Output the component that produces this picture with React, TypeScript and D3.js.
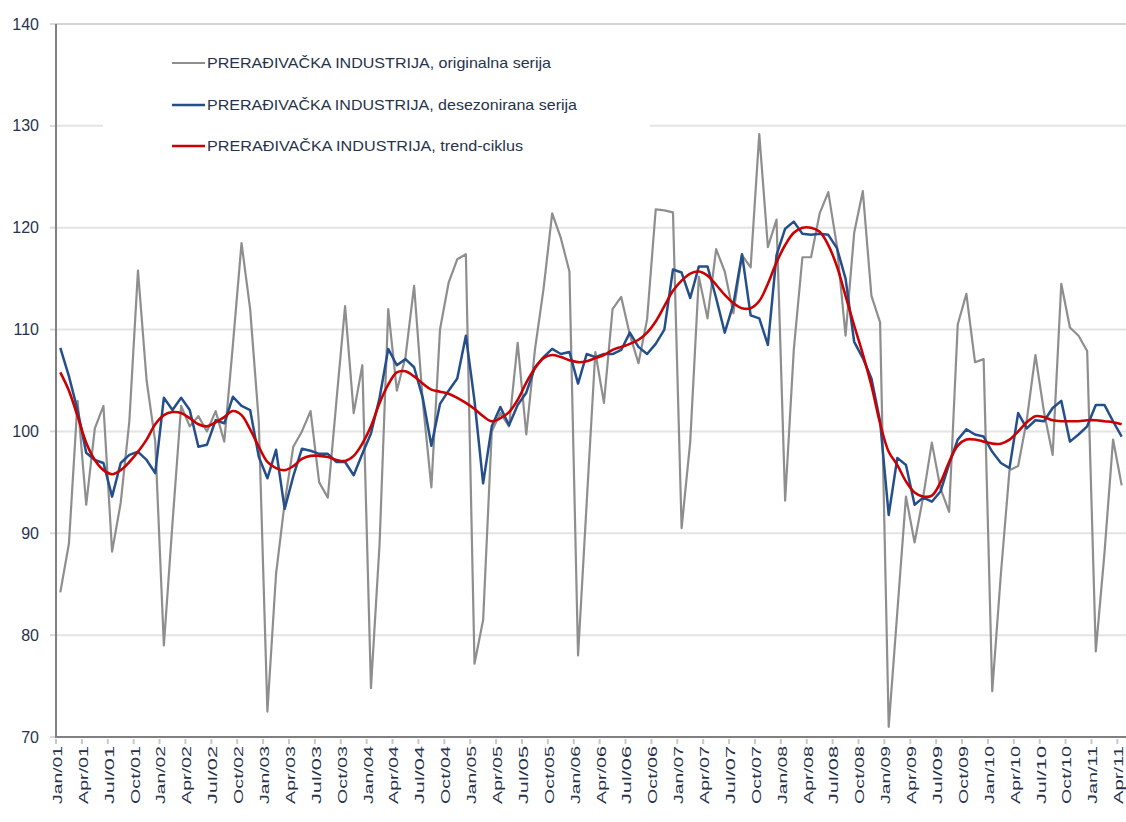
import React, { useEffect, useRef } from 'react';
import * as d3 from 'd3';

const MONTHS = ['Jan', 'Feb', 'Mar', 'Apr', 'May', 'Jun', 'Jul', 'Aug', 'Sep', 'Oct', 'Nov', 'Dec'];
// Jan/01 .. Apr/11, one category per month
const categories = d3.range(124).map((i) => `${MONTHS[i % 12]}/${String(1 + Math.floor(i / 12)).padStart(2, '0')}`);
const tickLabels = categories.filter((_, i) => i % 3 === 0);
const yTicks = [70, 80, 90, 100, 110, 120, 130, 140];

const original = [
  84.2, 89, 103, 92.8, 100.3, 102.5, 88.2, 93, 101, 115.8, 105, 99,
  79, 91, 102.5, 100.5, 101.5, 100, 102, 99, 108.5, 118.5, 112, 101,
  72.5, 86, 93, 98.5, 100, 102, 95, 93.5, 103, 112.3, 101.8, 106.5,
  74.8, 89, 112, 104, 107.3, 114.3, 103, 94.5, 110, 114.6, 116.9, 117.4,
  77.2, 81.5, 100, 101.8, 100.5, 108.7, 99.7, 108, 114, 121.4, 119, 115.7,
  78, 93, 107.8, 102.8, 112, 113.2, 109.5, 106.7, 111, 121.8, 121.7, 121.5,
  90.5, 99, 115.2, 111.1, 117.9, 115.7, 111.6, 117.3, 116.1, 129.2, 118.1, 120.8,
  93.2, 108, 117.1, 117.1, 121.4, 123.5, 118.2, 109.4, 119.5, 123.6, 113.3, 110.7,
  71, 82.3, 93.6, 89.1, 93.6, 98.9, 94.4, 92.1, 110.5, 113.5, 106.8, 107.1,
  74.5, 86, 96.2, 96.6, 101.1, 107.5, 101.9, 97.7, 114.5, 110.2, 109.4, 107.9,
  78.4, 88, 99.2, 94.7,
];

const seasonallyAdjusted = [
  108.2, 105.4, 102.1, 97.9, 97.2, 96.9, 93.6, 96.9, 97.7, 98, 97.2, 95.9,
  103.3, 102.1, 103.3, 102.1, 98.5, 98.7, 101.1, 100.8, 103.4, 102.5, 102.1, 97.5,
  95.4, 98.2, 92.4, 95.6, 98.3, 98.1, 97.8, 97.8, 97, 97, 95.7, 97.8,
  99.8, 103.3, 108.1, 106.5, 107.1, 106.3, 103.3, 98.6, 102.7, 104, 105.2, 109.4,
  103, 94.9, 100.5, 102.4, 100.6, 102.6, 103.8, 106.3, 107.3, 108.1, 107.6, 107.8,
  104.7, 107.6, 107.3, 107.6, 107.6, 108, 109.7, 108.3, 107.6, 108.6, 110, 115.9,
  115.6, 113.1, 116.2, 116.2, 113.1, 109.7, 112.5, 117.4, 111.4, 111.1, 108.5, 117.3,
  119.9, 120.6, 119.4, 119.3, 119.4, 119.3, 118, 115, 108.8, 107.2, 105.2, 101,
  91.8, 97.4, 96.7, 92.8, 93.5, 93.1, 94.1, 96.8, 99.2, 100.2, 99.7, 99.5,
  98, 96.9, 96.4, 101.8, 100.3, 101.1, 101, 102.3, 103, 99, 99.7, 100.5,
  102.6, 102.6, 101, 99.5,
];

const trendCycle = [
  105.8, 104, 101.5, 98.9, 97.2, 96.2, 95.8, 96.2, 97, 98, 99.2, 100.7,
  101.6, 101.9, 101.8, 101.3, 100.7, 100.5, 100.9, 101.4, 102, 101.6, 100.2, 98.5,
  97, 96.4, 96.2, 96.6, 97.3, 97.6, 97.6, 97.5, 97.2, 97.1, 97.6, 98.8,
  100.5, 102.8, 104.6, 105.8, 105.9, 105.4, 104.7, 104.1, 103.9, 103.7, 103.3, 102.8,
  102.2, 101.5, 101, 101.3, 101.9, 103.1, 104.8, 106.2, 107.2, 107.5, 107.3, 107,
  106.8, 106.9, 107.2, 107.5, 108, 108.3, 108.6, 109, 109.7, 110.8, 112.3, 113.8,
  114.8, 115.5, 115.7, 115.3, 114.4, 113.4, 112.6, 112.1, 112.1, 112.8, 114.5, 116.6,
  118.3, 119.5, 120, 120, 119.6, 118.3, 116.2, 113.3, 110.4, 107.6, 104.5, 100.8,
  98, 96.7, 95.1, 94, 93.6, 93.7, 95, 97, 98.6, 99.2, 99.2, 99,
  98.8, 98.8, 99.2, 100, 100.9, 101.5, 101.4, 101.1, 101, 101, 101, 101.1,
  101.1, 101, 100.9, 100.7,
];

const seriesNames = [
  'PRERAĐIVAČKA INDUSTRIJA, originalna serija',
  'PRERAĐIVAČKA INDUSTRIJA, desezonirana serija',
  'PRERAĐIVAČKA INDUSTRIJA, trend-ciklus',
];

const App = () => {
  const svgRef = useRef(null);

  useEffect(() => {
    const svg = d3.select(svgRef.current);
    svg.selectAll('*').remove();

    const left = 56;
    const right = 1126;
    const top = 24;
    const bottom = 737;
    const labelColor = '#27334b';

    const x = d3.scaleBand().domain(categories).range([left, right]).padding(0);
    const cx = (c) => x(c) + x.bandwidth() / 2;
    const y = d3.scaleLinear().domain([70, 140]).range([bottom, top]);

    // gridlines
    svg.append('g')
      .selectAll('line')
      .data(yTicks.filter((t) => t > 70))
      .enter()
      .append('line')
      .attr('x1', left)
      .attr('x2', right)
      .attr('y1', (d) => y(d))
      .attr('y2', (d) => y(d))
      .attr('stroke', (d) => (d === 140 ? '#d4d4d4' : '#e4e4e4'))
      .attr('stroke-width', 2);

    // y axis labels + small ticks
    const yAxis = svg.append('g');
    yAxis.selectAll('line')
      .data(yTicks)
      .enter()
      .append('line')
      .attr('x1', left - 6)
      .attr('x2', left)
      .attr('y1', (d) => y(d))
      .attr('y2', (d) => y(d))
      .attr('stroke', '#d9d9d9')
      .attr('stroke-width', 2);
    yAxis.selectAll('text')
      .data(yTicks)
      .enter()
      .append('text')
      .attr('x', 39)
      .attr('y', (d) => y(d))
      .attr('dy', '0.35em')
      .attr('text-anchor', 'end')
      .style('font-family', 'Liberation Sans Narrow, Liberation Sans, Arial, sans-serif')
      .style('font-size', '16px')
      .attr('fill', labelColor)
      .text((d) => d);

    // x ticks between categories, every 3 months
    const xAxis = svg.append('g');
    xAxis.selectAll('line')
      .data(tickLabels)
      .enter()
      .append('line')
      .attr('x1', (d) => x(d))
      .attr('x2', (d) => x(d))
      .attr('y1', bottom + 2)
      .attr('y2', bottom + 7)
      .attr('stroke', '#c8c8c8')
      .attr('stroke-width', 2);
    xAxis.selectAll('text')
      .data(tickLabels)
      .enter()
      .append('text')
      .attr('transform', (d) => `translate(${cx(d) - 3},${bottom + 9}) rotate(-90)`)
      .attr('dy', '0.35em')
      .attr('text-anchor', 'end')
      .attr('textLength', 58)
      .attr('lengthAdjust', 'spacingAndGlyphs')
      .style('font-family', 'Liberation Sans, Arial, sans-serif')
      .style('font-size', '13px')
      .attr('fill', labelColor)
      .text((d) => d);

    // legend box hides gridline behind it
    const legend = svg.append('g');
    legend.append('rect')
      .attr('x', 103)
      .attr('y', 38)
      .attr('width', 547)
      .attr('height', 120)
      .attr('fill', '#fff');

    const lineGen = (curve) =>
      d3.line()
        .x((d, i) => cx(categories[i]))
        .y((d) => y(d))
        .curve(curve);

    const series = [
      { values: original, color: '#8e8e8e', width: 2.2, curve: d3.curveLinear },
      { values: seasonallyAdjusted, color: '#244f8a', width: 2.5, curve: d3.curveLinear },
      { values: trendCycle, color: '#cc0000', width: 2.6, curve: d3.curveCatmullRom },
    ];

    series.forEach((s) => {
      svg.append('path')
        .datum(s.values)
        .attr('d', lineGen(s.curve))
        .attr('fill', 'none')
        .attr('stroke', s.color)
        .attr('stroke-width', s.width)
        .attr('stroke-linejoin', 'round');
    });

    // axis lines
    svg.append('line')
      .attr('x1', left).attr('x2', left)
      .attr('y1', top).attr('y2', bottom + 1)
      .attr('stroke', '#808080').attr('stroke-width', 2);
    svg.append('line')
      .attr('x1', left - 1).attr('x2', right)
      .attr('y1', bottom).attr('y2', bottom)
      .attr('stroke', '#808080').attr('stroke-width', 2);

    const legendY = [63, 105, 146];
    const legendLen = [344, 370, 316];
    seriesNames.forEach((name, i) => {
      legend.append('line')
        .attr('x1', 172)
        .attr('x2', 205)
        .attr('y1', legendY[i])
        .attr('y2', legendY[i])
        .attr('stroke', series[i].color)
        .attr('stroke-width', series[i].width);
      legend.append('text')
        .attr('x', 207)
        .attr('y', legendY[i])
        .attr('dy', '0.35em')
        .attr('textLength', legendLen[i])
        .attr('lengthAdjust', 'spacingAndGlyphs')
        .style('font-family', 'Liberation Sans Narrow, Liberation Sans, Arial, sans-serif')
        .style('font-size', '15px')
        .attr('fill', labelColor)
        .text(name);
    });
  }, []);

  return (
    <svg
      ref={svgRef}
      width={1126}
      height={822}
      style={{ position: 'absolute', left: 0, top: 0, background: '#fff' }}
    />
  );
};

export default App;
